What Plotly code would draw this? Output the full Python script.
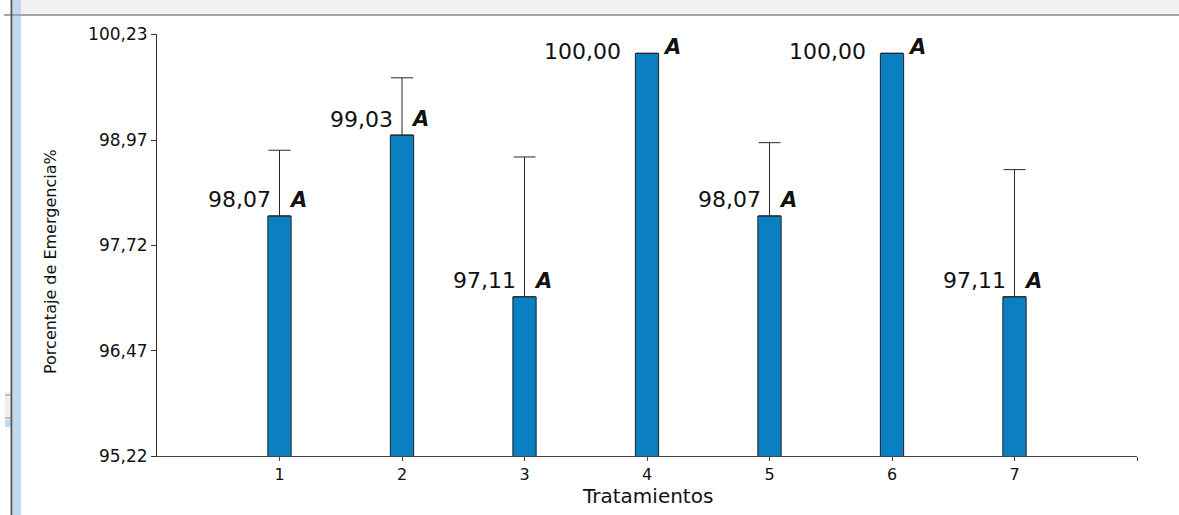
import plotly.graph_objects as go

# Porcentaje de emergencia por tratamiento (media y desvío superior)
tratamientos = [1, 2, 3, 4, 5, 6, 7]
emergencia = [98.07, 99.03, 97.11, 100.00, 98.07, 100.00, 97.11]
desvio_sup = [0.78, 0.68, 1.66, 0.0, 0.87, 0.0, 1.51]
letras = ["A", "A", "A", "A", "A", "A", "A"]

y_tickvals = [95.22, 96.47, 97.72, 98.97, 100.23]
y_ticktext = ["95,22", "96,47", "97,72", "98,97", "100,23"]
x_tickvals = [1, 2, 3, 4, 5, 6, 7, 8]
x_ticktext = ["1", "2", "3", "4", "5", "6", "7", ""]

W, H = 1179, 515
M_L, M_R, M_T, M_B = 157, 42, 34, 59
FONT = "DejaVu Sans"

fig = go.Figure()
fig.add_trace(go.Bar(
    x=tratamientos,
    y=emergencia,
    width=0.19,
    marker=dict(color="#0a7fc1", line=dict(color="#222222", width=1)),
    error_y=dict(type="data", symmetric=False, array=desvio_sup,
                 arrayminus=[0] * len(desvio_sup),
                 color="#262626", thickness=1, width=11),
    hoverinfo="x+y",
))

annotations = []
for x, v, e, l in zip(tratamientos, emergencia, desvio_sup, letras):
    if e > 0:
        dx_val, dx_let, dy_val, dy_let = -7, 7, 16, 16
    else:
        dx_val, dx_let, dy_val, dy_let = -24, 14, 2, 6
    annotations.append(dict(
        x=x, y=v, xref="x", yref="y", text=f"{v:.2f}".replace(".", ","),
        showarrow=False, xanchor="right", yanchor="middle",
        xshift=dx_val, yshift=dy_val,
        font=dict(family=FONT, size=22, color="#111111")))
    annotations.append(dict(
        x=x, y=v, xref="x", yref="y", text=f"<b><i>{l}</i></b>",
        showarrow=False, xanchor="left", yanchor="middle",
        xshift=dx_let, yshift=dy_let,
        font=dict(family=FONT, size=21, color="#111111")))

# Títulos de ejes
annotations.append(dict(
    x=0.5, y=0, xref="paper", yref="paper", text="Tratamientos",
    showarrow=False, xanchor="center", yanchor="middle", yshift=-40,
    font=dict(family=FONT, size=20, color="#111111")))
annotations.append(dict(
    x=0, y=(456 - 262) / 422, xref="paper", yref="paper",
    text="Porcentaje de Emergencia%", textangle=-90,
    showarrow=False, xanchor="center", yanchor="middle", xshift=-107,
    font=dict(family=FONT, size=16, color="#111111")))


def px_x(p):
    return (p - M_L) / (W - M_L - M_R)


def px_y(p):
    return (H - M_B - p) / (H - M_T - M_B)


# Marco de la ventana
shapes = [
    dict(type="rect", xref="paper", yref="paper", x0=px_x(21), x1=px_x(W),
         y0=px_y(0), y1=px_y(14), fillcolor="#f0f0f0", line_width=0, layer="below"),
    dict(type="line", xref="paper", yref="paper", x0=px_x(4), x1=px_x(W),
         y0=px_y(15), y1=px_y(15), line=dict(color="#a6a6a6", width=2)),
    dict(type="rect", xref="paper", yref="paper", x0=px_x(13), x1=px_x(21),
         y0=px_y(0), y1=px_y(H), fillcolor="#c3d9f1", line_width=0, layer="below"),
    dict(type="line", xref="paper", yref="paper", x0=px_x(11.5), x1=px_x(11.5),
         y0=px_y(0), y1=px_y(H), line=dict(color="#5a5a5a", width=2)),
    dict(type="rect", xref="paper", yref="paper", x0=px_x(5), x1=px_x(11),
         y0=px_y(392), y1=px_y(427), fillcolor="#f0f0f0", line_width=0, layer="below"),
    dict(type="line", xref="paper", yref="paper", x0=px_x(5), x1=px_x(11),
         y0=px_y(395), y1=px_y(395), line=dict(color="#909090", width=1)),
    dict(type="line", xref="paper", yref="paper", x0=px_x(5), x1=px_x(11),
         y0=px_y(418), y1=px_y(418), line=dict(color="#909090", width=1)),
    dict(type="rect", xref="paper", yref="paper", x0=px_x(5), x1=px_x(11),
         y0=px_y(420), y1=px_y(427), fillcolor="#c3d9f1", line_width=0, layer="below"),
]

fig.update_layout(
    width=W, height=H,
    margin=dict(l=M_L, r=M_R, t=M_T, b=M_B, pad=0),
    paper_bgcolor="white", plot_bgcolor="white",
    showlegend=False,
    font=dict(family=FONT, color="#111111"),
    annotations=annotations,
    shapes=shapes,
    xaxis=dict(
        range=[0, 8], tickvals=x_tickvals, ticktext=x_ticktext,
        showgrid=False, zeroline=False, showline=True,
        linecolor="#444444", linewidth=1,
        ticks="outside", ticklen=4, tickcolor="#444444",
        tickfont=dict(family=FONT, size=16, color="#111111"),
    ),
    yaxis=dict(
        range=[95.22, 100.23], tickvals=y_tickvals, ticktext=y_ticktext,
        showgrid=False, zeroline=False, showline=True,
        linecolor="#333333", linewidth=1,
        ticks="outside", ticklen=5, tickcolor="#333333",
        tickfont=dict(family=FONT, size=17, color="#111111"),
    ),
)

fig.write_html("out.html")
